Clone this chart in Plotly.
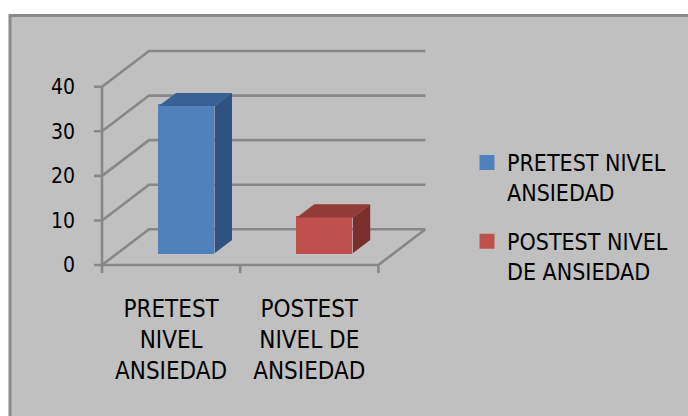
import plotly.graph_objects as go

# ---- data ----
categories = ["PRETEST<br>NIVEL<br>ANSIEDAD", "POSTEST<br>NIVEL DE<br>ANSIEDAD"]
series_names = ["PRETEST NIVEL<br>ANSIEDAD", "POSTEST NIVEL<br>DE ANSIEDAD"]
values = [33, 8]
y_ticks = [0, 10, 20, 30, 40]

front_colors = ["#4F81BD", "#C0504D"]
top_colors = ["#3A6194", "#923B39"]
side_colors = ["#2F5280", "#7B2F2D"]

# ---- geometry (layout) ----
W_FIG, H_FIG = 688, 416
L, R, T, B = 88, 0, 48, 141
PLOT_W = 346          # width of the chart area in px
PX_X = 138.2          # px per x unit
PX_Y = 4.4575         # px per y unit
X_AXIS_PX = 102       # pixel of front-left corner
Y_ZERO_PX = 265       # pixel of value 0 (front)

paper_w = W_FIG - L - R
ph = H_FIG - T - B
x_lo = -0.5 - (X_AXIS_PX - L) / PX_X
x_hi = x_lo + PLOT_W / PX_X
y_lo = -((H_FIG - B) - Y_ZERO_PX) / PX_Y
y_hi = y_lo + ph / PX_Y

X0, X1 = -0.5, len(values) - 0.5
DX = 47 / PX_X           # depth offset in x units
DY = 35.7 / PX_Y         # depth offset in y units
D0, D1 = 0.33, 0.70      # bar depth fractions
BAR_W = 53 / PX_X
TICK_X = 8 / PX_X
TICK_Y = 8 / PX_Y
GRID_COLOR = "#878787"

# frame path (walls, floor, gridlines, tick marks)
segs = []
for v in y_ticks:
    segs.append([(X0, v), (X0 + DX, v + DY), (X1 + DX, v + DY)])
    segs.append([(X0 - TICK_X, v), (X0, v)])
segs.append([(X0, -TICK_Y), (X0, max(y_ticks))])
segs.append([(X0, 0), (X1, 0), (X1 + DX, DY)])
for i in range(len(values) + 1):
    xv = X0 + i
    segs.append([(xv, 0), (xv, -TICK_Y)])

path = ""
for s in segs:
    path += "M{},{}".format(*s[0]) + "".join("L{},{}".format(*p) for p in s[1:])


def px2paper_x(px):
    return (px - L) / paper_w


def px2paper_y(py):
    return 1 - (py - T) / ph


shapes = [
    dict(type="rect", xref="paper", yref="paper", layer="below",
         x0=px2paper_x(10), x1=px2paper_x(720),
         y0=px2paper_y(440), y1=px2paper_y(15.5),
         fillcolor="#C0C0C0", line=dict(color="#8A8A8A", width=3)),
    dict(type="path", path=path, xref="x", yref="y", layer="below",
         line=dict(color=GRID_COLOR, width=2.6)),
]

fig = go.Figure()

base = D0 * DY
bdx = (D1 - D0) * DX
bdy = (D1 - D0) * DY
for i, (v, name) in enumerate(zip(values, series_names)):
    xc = i + D0 * DX
    fig.add_trace(go.Bar(
        x=[xc], y=[v], base=[base], width=BAR_W, name=name,
        marker=dict(color=front_colors[i], line=dict(width=3, color=front_colors[i])),
        legendgroup=str(i), hoverinfo="skip",
    ))
    xl, xr = xc - BAR_W / 2 - 1.5 / PX_X, xc + BAR_W / 2 + 1.5 / PX_X
    top = base + v
    fig.add_trace(go.Scatter(
        x=[xl, xr, xr + bdx, xl + bdx, xl],
        y=[top, top, top + bdy, top + bdy, top],
        fill="toself", fillcolor=top_colors[i], mode="lines",
        line=dict(width=0, color=top_colors[i]), showlegend=False, hoverinfo="skip",
    ))
    fig.add_trace(go.Scatter(
        x=[xr, xr + bdx, xr + bdx, xr, xr],
        y=[base, base + bdy, top + bdy, top, base],
        fill="toself", fillcolor=side_colors[i], mode="lines",
        line=dict(width=0, color=side_colors[i]), showlegend=False, hoverinfo="skip",
    ))

TEXT_FONT = "DejaVu Sans Condensed, Roboto, sans-serif"

fig.update_layout(
    width=W_FIG, height=H_FIG,
    margin=dict(l=L, r=R, t=T, b=B, pad=0),
    paper_bgcolor="white", plot_bgcolor="rgba(0,0,0,0)",
    shapes=shapes,
    showlegend=True,
    legend=dict(x=px2paper_x(467), y=px2paper_y(141), xanchor="left", yanchor="top",
                valign="top", bgcolor="rgba(0,0,0,0)", tracegroupgap=16,
                font=dict(family=TEXT_FONT, size=23, color="black"),
                itemwidth=30),
    xaxis=dict(domain=[0, PLOT_W / paper_w], range=[x_lo, x_hi], tickmode="array",
               tickvals=list(range(len(categories))),
               ticktext=categories, ticks="", showgrid=False, zeroline=False, showline=False,
               tickfont=dict(family=TEXT_FONT, size=24, color="black"),
               ticklabelstandoff=17, fixedrange=True),
    yaxis=dict(range=[y_lo, y_hi], tickmode="array", tickvals=y_ticks, ticks="",
               showgrid=False, zeroline=False, showline=False,
               tickfont=dict(family=TEXT_FONT, size=21, color="black"),
               ticklabelstandoff=12, fixedrange=True),
    bargap=0,
)

fig.write_html("out.html")
